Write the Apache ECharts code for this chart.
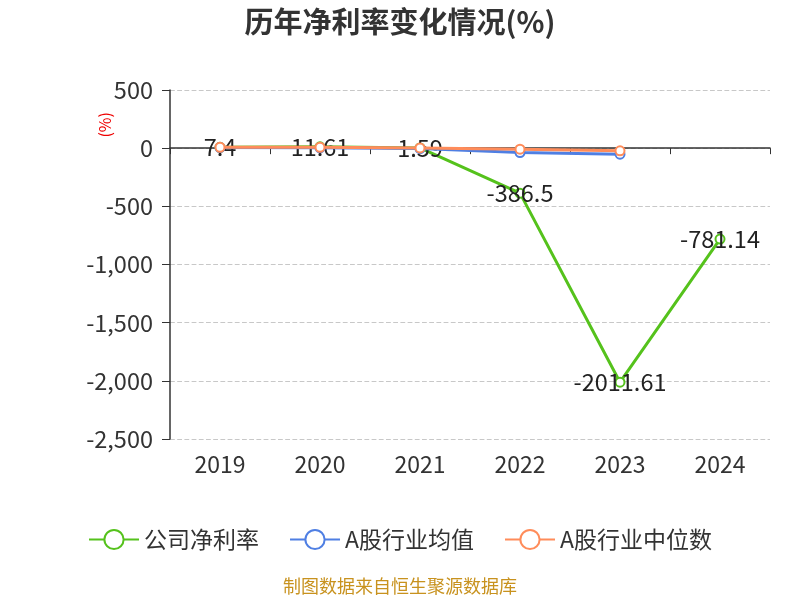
<!DOCTYPE html>
<html><head><meta charset="utf-8">
<script src="https://cdn.jsdelivr.net/npm/echarts@6/dist/echarts.min.js"></script>
<style>html,body{margin:0;padding:0;background:#fff}#c{width:800px;height:600px}</style>
</head><body><div id="c"></div>
<script>
const categories = ['2019','2020','2021','2022','2023','2024'];
const companyRate = [7.4, 11.61, 1.59, -386.5, -2011.61, -781.14];
const industryAvg = [5, 3, -3, -38, -52, null];
const industryMedian = [8, 8, 2, -9, -23, null];
const yTicks = {min: -2500, max: 500, interval: 500};

const chart = echarts.init(document.getElementById('c'));
const font = '"Noto Sans CJK SC", "Noto Sans", sans-serif';
chart.setOption({
  textStyle: {fontFamily: font},
  title: {text: '历年净利率变化情况(%)', left: 'center', top: 2,
    textStyle: {fontSize: 29, fontWeight: 'bold', color: '#333', fontFamily: font}},
  legend: {bottom: 44, itemWidth: 50, itemHeight: 24, itemGap: 30,
    textStyle: {fontSize: 23, color: '#333', fontFamily: font},
    data: ['公司净利率','A股行业均值','A股行业中位数']},
  grid: {left: 170, right: 30, top: 90, bottom: 161},
  xAxis: [{type: 'category', data: categories, boundaryGap: true,
      axisLine: {onZero: true, lineStyle: {color: '#333', width: 1.5}},
      axisTick: {show: true, length: 6, lineStyle: {color: '#333'}},
      axisLabel: {show: false}},
    {type: 'category', data: categories, position: 'bottom',
      axisLine: {show: false, onZero: false}, axisTick: {show: false},
      axisLabel: {fontSize: 23, color: '#333', margin: 14, fontFamily: font}}],
  yAxis: {type: 'value', min: yTicks.min, max: yTicks.max, interval: yTicks.interval,
    axisLine: {show: true, lineStyle: {color: '#333', width: 1.5}},
    axisTick: {show: true, length: 8, lineStyle: {color: '#333'}},
    axisLabel: {fontSize: 23.5, color: '#333', margin: 17, fontFamily: font},
    splitLine: {lineStyle: {type: 'dashed', color: '#c8c8c8', width: 1.2}}},
  graphic: [{type: 'text', left: 97, top: 112, rotation: Math.PI/2,
      style: {text: '(%)', fill: '#e00', fontSize: 16, fontFamily: font}},
    {type: 'text', left: 'center', top: 577, style: {text: '制图数据来自恒生聚源数据库', fill: '#c8921e', fontSize: 18, fontFamily: font}}],
  series: [
    {name: '公司净利率', type: 'line', data: companyRate, symbol: 'emptyCircle', symbolSize: 9,
      lineStyle: {width: 3, color: '#55c21c'}, itemStyle: {color: '#55c21c'},
      label: {show: true, position: 'inside', fontSize: 23.5, color: '#222', fontFamily: font}, z: 2},
    {name: 'A股行业均值', type: 'line', data: industryAvg, symbol: 'emptyCircle', symbolSize: 9,
      lineStyle: {width: 3, color: '#4f7fe3'}, itemStyle: {color: '#4f7fe3'}, z: 3},
    {name: 'A股行业中位数', type: 'line', data: industryMedian, symbol: 'emptyCircle', symbolSize: 9,
      lineStyle: {width: 3, color: '#ff8c5a'}, itemStyle: {color: '#ff8c5a'}, z: 4}
  ]
});
</script></body></html>
